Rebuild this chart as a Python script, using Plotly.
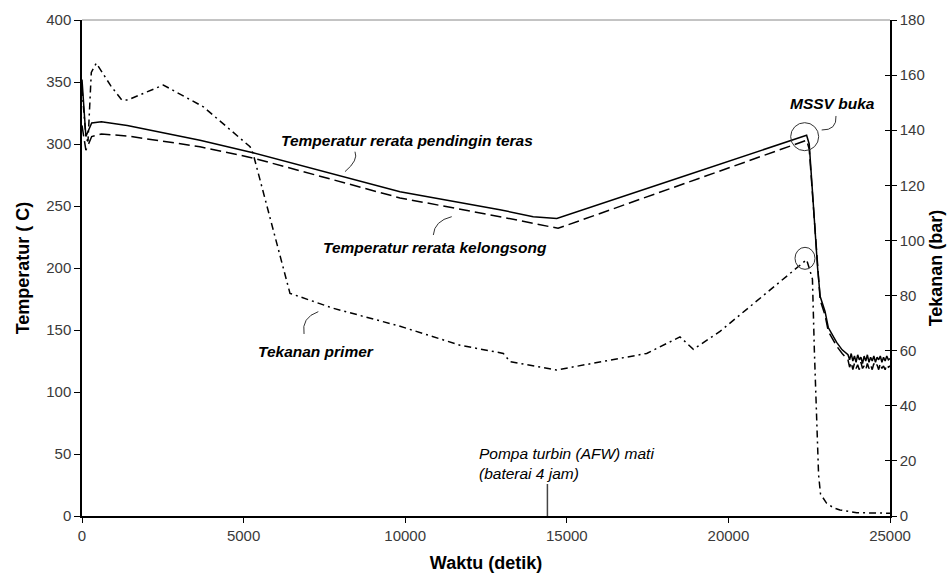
import plotly.graph_objects as go

# ---------------- data ----------------
# Average core coolant temperature (solid), deg C
t_core = [0, 120, 300, 600, 1400, 3650, 5290, 9840, 12930, 13960, 14690, 15000, 16030,
          18500, 22420, 22500, 22600, 22680, 22760, 22840, 22990, 23090, 23350, 23520,
          23700, 23750, 23800, 23850, 23900, 23950, 24000, 24050, 24100, 24150, 24200,
          24250, 24300, 24350, 24400, 24450, 24500, 24550, 24600, 24650, 24700, 24750,
          24800, 24850, 24900, 24950, 25000]
T_core = [352, 306, 317, 318, 315, 303, 293, 261.5, 247, 241.4, 240, 242.7, 252,
          273, 307, 300, 262, 229, 200, 177, 165, 152, 140, 134,
          130, 126, 131, 125, 129, 124, 130, 126, 128, 123, 129, 125, 130, 124, 128,
          125, 129, 124, 128, 126, 129, 124, 128, 125, 129, 126, 127]

# Average cladding temperature (dashed), deg C
t_clad = [0, 120, 300, 600, 1400, 3650, 5290, 9840, 12930, 14730, 16030,
          22420, 22500, 22600, 22680, 22760, 22840, 22990, 23090, 23350, 23520,
          23700, 23750, 23800, 23850, 23900, 23950, 24000, 24050, 24100, 24150, 24200,
          24250, 24300, 24350, 24400, 24450, 24500, 24550, 24600, 24650, 24700, 24750,
          24800, 24850, 24900, 24950, 25000]
T_clad = [315, 295, 306, 308, 306.5, 297.8, 288.7, 256.5, 241.4, 232, 244,
          303, 296, 258, 226, 197, 174, 162, 149, 137, 131,
          126, 120, 124, 118, 123, 119, 122, 118, 124, 119, 121, 118, 123, 119, 122,
          118, 123, 120, 122, 118, 123, 119, 121, 118, 122, 120, 121]

# Primary pressure (dash-dot), bar
t_pres = [0, 124, 186, 288, 442, 897, 1228, 1423, 2516, 3754, 5200, 5290, 6435,
          7770, 9800, 11695, 13036, 13242, 14687, 16027, 17472, 18502, 18915, 19740,
          22420, 22500, 22600, 22660, 22720, 22790, 22850, 23040, 23250, 23450, 23970, 25000]
P_pres = [155, 137, 136, 161, 164.3, 156, 151, 151, 156.4, 148.5, 134, 131.7, 80.8,
          75.4, 69, 62, 59, 56, 53, 56, 59, 65, 60.5, 67,
          93, 90, 86, 60, 35, 15, 8, 4.6, 3, 2.2, 1.2, 1]

x_ticks = [0, 5000, 10000, 15000, 20000, 25000]
y_ticks = [0, 50, 100, 150, 200, 250, 300, 350, 400]
y2_ticks = [0, 20, 40, 60, 80, 100, 120, 140, 160, 180]

FONT = "Arial, Liberation Sans, sans-serif"
TICKC = "#3a3a3a"

fig = go.Figure()
fig.add_trace(go.Scatter(x=t_core, y=T_core, mode="lines", yaxis="y",
                         line=dict(color="black", width=1.5), name="core"))
fig.add_trace(go.Scatter(x=t_clad, y=T_clad, mode="lines", yaxis="y",
                         line=dict(color="black", width=1.5, dash="11px,5px"), name="clad"))
fig.add_trace(go.Scatter(x=t_pres, y=P_pres, mode="lines", yaxis="y2",
                         line=dict(color="black", width=1.5, dash="7px,4px,2px,4px"), name="pres"))
# invisible trace to hold the inner tick axis on the right
fig.add_trace(go.Scatter(x=[0], y=[0], mode="lines", yaxis="y3", showlegend=False,
                         line=dict(color="rgba(0,0,0,0)"), hoverinfo="skip"))

fig.update_layout(
    width=951, height=576,
    margin=dict(l=82, r=61, t=20, b=60, autoexpand=False),
    paper_bgcolor="white", plot_bgcolor="white",
    showlegend=False,
    font=dict(family=FONT, color=TICKC, size=15),
    xaxis=dict(range=[0, 25000], tickvals=x_ticks, ticktext=[str(v) for v in x_ticks],
               showgrid=False, zeroline=False, showline=True, linecolor="black", linewidth=1.5,
               ticks="outside", ticklen=5, tickcolor="black", tickwidth=1, automargin=False,
               tickfont=dict(size=15, color=TICKC),
               title=dict(text="<b>Waktu (detik)</b>", font=dict(size=18, color="black"), standoff=14)),
    yaxis=dict(range=[0, 400], tickvals=y_ticks, showgrid=False, zeroline=False,
               showline=True, linecolor="black", linewidth=1.5, automargin=False,
               ticks="outside", ticklen=6, tickcolor="black", tickwidth=1,
               tickfont=dict(size=15, color=TICKC),
               title=dict(text="<b>Temperatur ( C)</b>", font=dict(size=18, color="black"), standoff=12)),
    yaxis2=dict(range=[0, 180], tickvals=y2_ticks, overlaying="y", side="right",
                showgrid=False, zeroline=False, showline=True, linecolor="black", linewidth=1.5,
                ticks="outside", ticklen=5, tickcolor="black", tickwidth=1, automargin=False,
                tickfont=dict(size=15, color=TICKC),
                title=dict(text="<b>Tekanan (bar)</b>", font=dict(size=18, color="black"), standoff=6)),
    yaxis3=dict(range=[0, 180], tickvals=y2_ticks, overlaying="y", side="right",
                showgrid=False, zeroline=False, showline=False, showticklabels=False,
                automargin=False, ticks="inside", ticklen=5, tickcolor="black", tickwidth=1),
)

def px2paper(px, py):
    return (px - 82) / 808.0, (516 - py) / 496.0

ann_font = dict(family=FONT, size=15.5, color="black")
labels = [
    ("<b><i>Temperatur rerata pendingin teras</i></b>", 407, 140),
    ("<b><i>Temperatur rerata kelongsong</i></b>", 435, 247),
    ("<b><i>Tekanan primer</i></b>", 316, 351),
    ("<b><i>MSSV buka</i></b>", 832, 104),
]
for txt, px, py in labels:
    xp, yp = px2paper(px, py)
    fig.add_annotation(text=txt, x=xp, y=yp, xref="paper", yref="paper",
                       showarrow=False, xanchor="center", yanchor="middle", font=ann_font)

xp, yp = px2paper(477, 443)
fig.add_annotation(text="<i>Pompa turbin (AFW) mati<br>(baterai 4 jam)</i>", x=xp, y=yp,
                   xref="paper", yref="paper", showarrow=False, xanchor="left", yanchor="top",
                   align="left", font=dict(family=FONT, size=15.5, color="black"))

LC = "#333333"
# leader lines (data coordinates of the left axis)
fig.add_shape(type="path", xref="x", yref="y",
              path="M 8447,293.8 Q 8560,287 8137,277.7", line=dict(color=LC, width=1))
fig.add_shape(type="path", xref="x", yref="y",
              path="M 10870,226.6 Q 10900,238 11440,241.4", line=dict(color=LC, width=1))
fig.add_shape(type="path", xref="x", yref="y",
              path="M 6870,146.8 Q 6780,160 7312,164.8", line=dict(color=LC, width=1))
fig.add_shape(type="path", xref="x", yref="y",
              path="M 22886,311.3 Q 23360,311 23329,322.6", line=dict(color=LC, width=1))
# circles
fig.add_shape(type="circle", xref="x", yref="y", xsizemode="pixel", ysizemode="pixel",
              xanchor=22360, yanchor=305.9, x0=-14, x1=14, y0=-14, y1=14,
              line=dict(color=LC, width=1))
fig.add_shape(type="circle", xref="x", yref="y", xsizemode="pixel", ysizemode="pixel",
              xanchor=22370, yanchor=207.8, x0=-10, x1=10, y0=-11, y1=11,
              line=dict(color=LC, width=1))
# pump-off marker at 14400 s (4 h)
fig.add_shape(type="line", xref="x", yref="y", x0=14400, x1=14400, y0=-3, y1=25.8,
              line=dict(color="#444444", width=1.5))
# grey top border
fig.add_shape(type="line", xref="paper", yref="paper", x0=0, x1=1, y0=1, y1=1,
              line=dict(color="#888888", width=1))

fig.write_html("out.html")
